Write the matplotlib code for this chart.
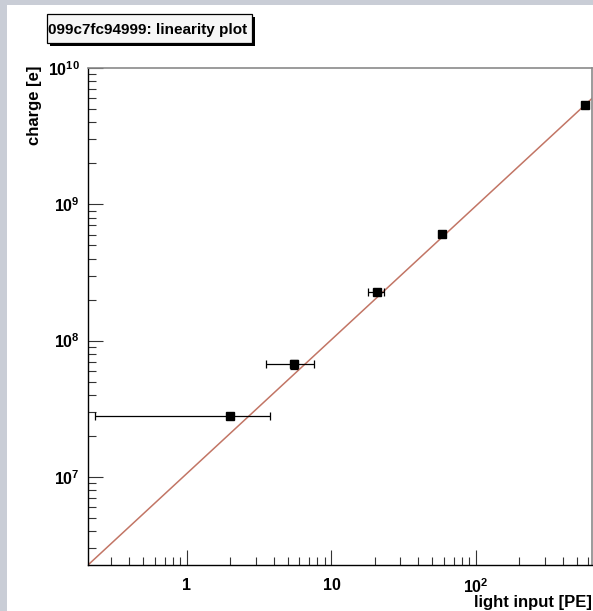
import matplotlib
matplotlib.use("Agg")
import matplotlib.pyplot as plt
from matplotlib.patches import Rectangle
from matplotlib.ticker import FixedLocator, NullFormatter

# measured points (light input in PE, charge in electrons)
light_pe = [2.0, 5.53, 20.5, 58.4, 568.0]
light_err = [1.77, 2.0, 2.6, 2.0, 5.0]
charge_e = [2.80e7, 6.71e7, 2.29e8, 6.10e8, 5.36e9]
charge_err = [1.2e6, 5.5e6, 8.0e6, 2.0e7, 1.5e8]

# fitted line, read at the two ends of the x range
fit_x = [0.2065, 635.0]
fit_y = [2.26e6, 5.98e9]

x_ticks = [1, 10, 100]
x_labels = ["1", "10", r"$\mathbf{10^{2}}$"]
y_ticks = [1e7, 1e8, 1e9, 1e10]
y_labels = [r"$\mathbf{10^{7}}$", r"$\mathbf{10^{8}}$", r"$\mathbf{10^{9}}$", r"$\mathbf{10^{10}}$"]

plt.rcParams["font.family"] = ["Liberation Sans", "DejaVu Sans"]
plt.rcParams["font.weight"] = "bold"
plt.rcParams["mathtext.fontset"] = "custom"
plt.rcParams["mathtext.bf"] = "Liberation Sans:bold"
plt.rcParams["mathtext.rm"] = "Liberation Sans:bold"

W, H = 593, 611
fig = plt.figure(figsize=(W / 100, H / 100), dpi=100)
fig.patch.set_facecolor("#c9cdd6")
# white canvas inside the textured border
fig.patches.append(Rectangle((7 / W, 0), 1, 1 - 5 / H, transform=fig.transFigure,
                             facecolor="white", edgecolor="none", zorder=-5))

ax = fig.add_axes([88 / W, 1 - 565 / H, (592 - 88) / W, (565 - 68) / H])
ax.set_zorder(1)
ax.set_xscale("log")
ax.set_yscale("log")
ax.set_xlim(0.2065, 635)
ax.set_ylim(2.26e6, 1e10)

ax.plot(fit_x, fit_y, color="#c27565", lw=1.1, zorder=2)
ax.errorbar(light_pe, charge_e, xerr=light_err, yerr=charge_err, fmt="s",
            color="black", ms=6.3, elinewidth=0.9, capsize=3, capthick=0.9, zorder=3)

ax.xaxis.set_major_locator(FixedLocator(x_ticks))
ax.set_xticklabels(x_labels)
ax.yaxis.set_major_locator(FixedLocator(y_ticks))
ax.set_yticklabels(y_labels)
x_minor = [m * 10.0 ** d for d in range(-1, 3) for m in range(2, 10)]
y_minor = [m * 10.0 ** d for d in range(6, 10) for m in range(2, 10)]
ax.xaxis.set_minor_locator(FixedLocator([v for v in x_minor if 0.2065 < v < 635]))
ax.yaxis.set_minor_locator(FixedLocator([v for v in y_minor if 2.26e6 < v < 1e10]))
ax.xaxis.set_minor_formatter(NullFormatter())
ax.yaxis.set_minor_formatter(NullFormatter())

ax.tick_params(which="both", direction="in", top=False, right=False,
               labelsize=11.5, width=0.8, color="#333333")
ax.tick_params(which="major", length=11)
ax.tick_params(which="minor", length=5.5)
ax.tick_params(axis="x", which="major", pad=9)
ax.tick_params(axis="y", which="major", pad=6)
for lab in ax.get_xticklabels() + ax.get_yticklabels():
    lab.set_fontweight("bold")

for side in ["left", "bottom"]:
    ax.spines[side].set_color("black")
    ax.spines[side].set_linewidth(1.0)
for side in ["top", "right"]:
    ax.spines[side].set_color("#8a8a8a")
    ax.spines[side].set_linewidth(1.2)

fig.text(592 / W, 1 - 602 / H, "light input [PE]", ha="right", va="center",
         fontsize=12, fontweight="bold")
fig.text(35 / W, 1 - 66 / H, "charge [e]", rotation=90, ha="center", va="top",
         fontsize=12, fontweight="bold")

# title box with shadow
fig.patches.append(Rectangle((50 / W, 1 - 46 / H), 205 / W, 29 / H, transform=fig.transFigure,
                             facecolor="black", edgecolor="none", zorder=3))
fig.patches.append(Rectangle((47 / W, 1 - 43 / H), 205 / W, 29 / H, transform=fig.transFigure,
                             facecolor="#f6f6f6", edgecolor="black", lw=0.9, zorder=4))
fig.text(48.5 / W, 1 - 30 / H, "099c7fc94999: linearity plot", ha="left", va="center",
         fontsize=11, fontweight="bold", zorder=5)

fig.savefig("out.png", dpi=100, facecolor=fig.get_facecolor())
